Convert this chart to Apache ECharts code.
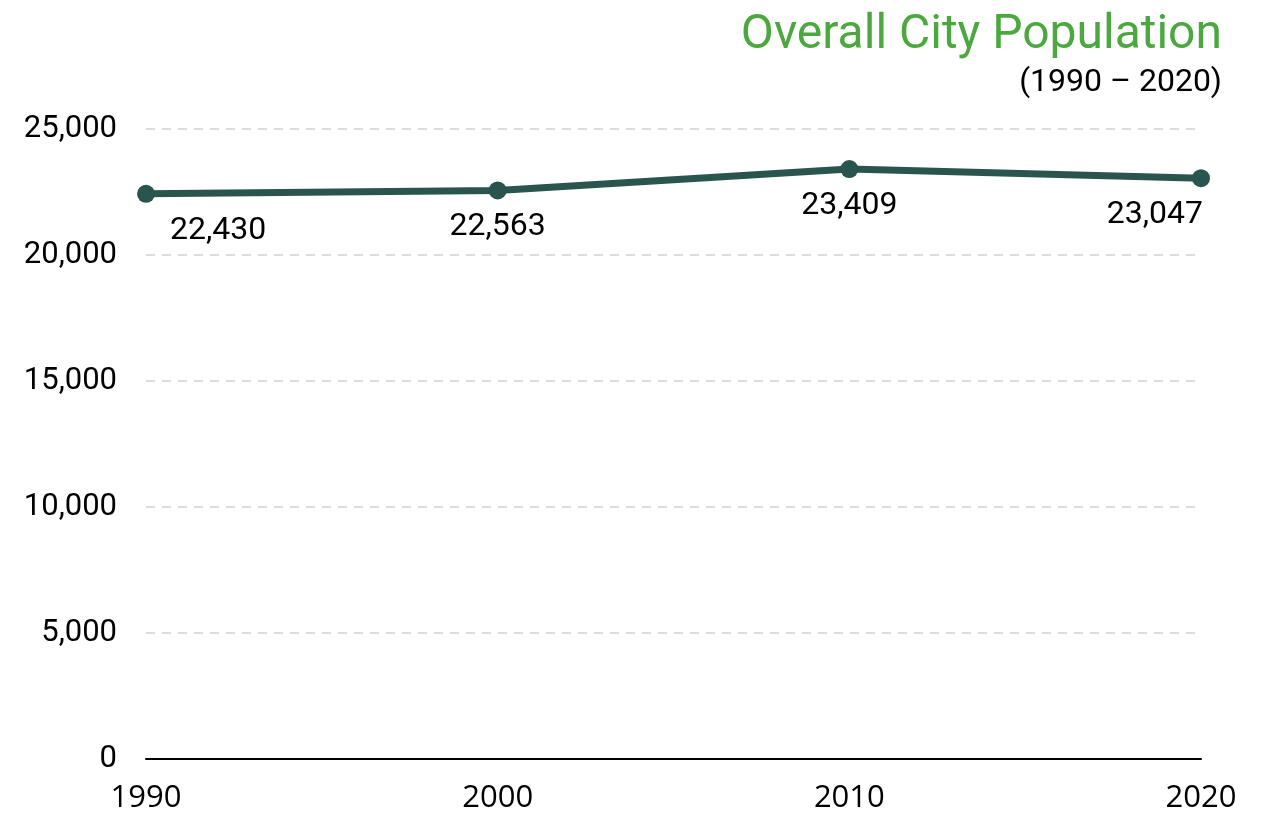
<!DOCTYPE html>
<html>
<head>
<meta charset="utf-8">
<script src="https://cdn.jsdelivr.net/npm/echarts@6/dist/echarts.min.js"></script>
<style>
  html, body { margin: 0; padding: 0; background: #fff; }
  #chart { width: 1261px; height: 814px; }
</style>
</head>
<body>
<div id="chart"></div>
<script>
var years = ['1990', '2000', '2010', '2020'];
var population = [22430, 22563, 23409, 23047];
var yTicks = [0, 5000, 10000, 15000, 20000, 25000];

var chart = echarts.init(document.getElementById('chart'));

// first and last labels are pushed inward so they stay inside the plot
var seriesData = population.map(function (v, i) {
    var item = { value: v };
    if (i === 0) item.label = { align: 'left', offset: [24, 0] };
    if (i === population.length - 1) item.label = { align: 'right', offset: [2, 0] };
    return item;
});

chart.setOption({
    animation: false,
    title: [{
        text: 'Overall City Population',
        right: 34,
        top: 7,
        textStyle: { color: '#4BA83F', fontFamily: 'Roboto', fontSize: 48, fontWeight: 'normal' }
    }, {
        text: '(1990 \u2013 2020)',
        right: 34,
        top: 62,
        textStyle: { color: '#000', fontFamily: 'Roboto', fontSize: 32, fontWeight: 'normal' }
    }],
    grid: { left: 146, right: 60, top: 129, bottom: 55, containLabel: false },
    xAxis: {
        type: 'category',
        data: years,
        boundaryGap: false,
        axisLine: { lineStyle: { color: '#000', width: 2 } },
        axisTick: { show: false },
        axisLabel: { color: '#000', fontFamily: 'Open Sans', fontSize: 31, margin: 24 }
    },
    yAxis: {
        type: 'value',
        min: yTicks[0],
        max: yTicks[yTicks.length - 1],
        interval: 5000,
        axisLine: { show: false },
        axisTick: { show: false },
        splitLine: { lineStyle: { color: '#dddddd', width: 2, type: [9, 7] } },
        axisLabel: {
            color: '#000', fontFamily: 'Roboto', fontSize: 31, margin: 29,
            formatter: function (v) { return v.toLocaleString('en-US'); }
        }
    },
    series: [{
        type: 'line',
        data: seriesData,
        symbol: 'circle',
        symbolSize: 18,
        lineStyle: { color: '#2A554F', width: 7 },
        itemStyle: { color: '#2A554F' },
        label: {
            show: true,
            position: 'bottom',
            distance: 12,
            color: '#000',
            fontFamily: 'Roboto',
            fontSize: 32,
            formatter: function (p) { return p.value.toLocaleString('en-US'); }
        }
    }]
});
</script>
</body>
</html>
